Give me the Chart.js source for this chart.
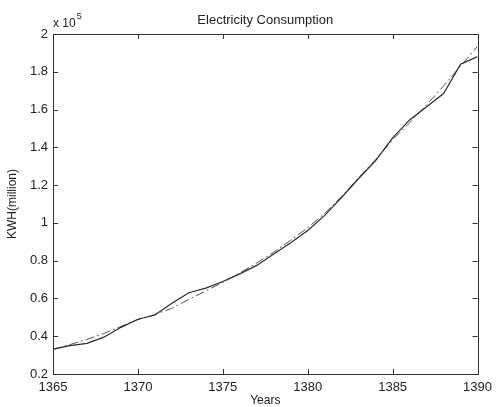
<!DOCTYPE html>
<html>
<head>
<meta charset="utf-8">
<script src="https://cdn.jsdelivr.net/npm/chart.js@4.4.0/dist/chart.umd.min.js"></script>
<style>
  html, body { margin: 0; padding: 0; background: #fff; }
  #wrap { width: 498px; height: 407px; }
</style>
</head>
<body>
<div id="wrap"><canvas id="chart" width="498" height="407"></canvas></div>
<script>
// yearly consumption, KWH(million)
const years = [1365, 1366, 1367, 1368, 1369, 1370, 1371, 1372, 1373, 1374, 1375, 1376, 1377,
               1378, 1379, 1380, 1381, 1382, 1383, 1384, 1385, 1386, 1387, 1388, 1389, 1390];
const actual = [33200, 35000, 36200, 39500, 44700, 49000, 51200, 57500, 63000, 65500, 69000, 73000, 77500,
                83500, 89500, 96000, 104000, 113500, 123500, 133000, 145000, 154500, 161500, 168500, 184000, 188000];
const fitted = [33000, 35600, 38300, 41500, 45200, 48800, 51500, 54800, 59500, 64000, 68500, 73500, 78800,
                84500, 90800, 97500, 105000, 114000, 124000, 133500, 144000, 153000, 162500, 172500, 183000, 193500];
const xTicks = [1365, 1370, 1375, 1380, 1385, 1390];
const yTicks = [20000, 40000, 60000, 80000, 100000, 120000, 140000, 160000, 180000, 200000];

const FONT = "'Liberation Sans', Arial, Helvetica, sans-serif";
const INK = "#222";

function toPoints(xs, ys) {
    return xs.map((x, i) => ({ x: x, y: ys[i] }));
}

// matlab style box: frame on all four sides, ticks pointing inwards, exponent label
const boxPlugin = {
    id: "box",
    afterDraw(chart) {
        const ctx = chart.ctx;
        const a = chart.chartArea;
        const xs = chart.scales.x, ys = chart.scales.y;
        const len = 5;
        ctx.save();
        ctx.strokeStyle = "#333";
        ctx.lineWidth = 1;
        ctx.strokeRect(Math.round(a.left) + 0.5, Math.round(a.top) + 0.5,
                       Math.round(a.right - a.left), Math.round(a.bottom - a.top));
        ctx.beginPath();
        xTicks.forEach(v => {
            const px = Math.round(xs.getPixelForValue(v)) + 0.5;
            ctx.moveTo(px, a.bottom); ctx.lineTo(px, a.bottom - len);
            ctx.moveTo(px, a.top); ctx.lineTo(px, a.top + len);
        });
        yTicks.forEach(v => {
            const py = Math.round(ys.getPixelForValue(v)) + 0.5;
            ctx.moveTo(a.left, py); ctx.lineTo(a.left + len, py);
            ctx.moveTo(a.right, py); ctx.lineTo(a.right - len, py);
        });
        ctx.stroke();

        ctx.fillStyle = INK;
        ctx.textBaseline = "alphabetic";
        ctx.textAlign = "left";
        ctx.font = "12px " + FONT;
        ctx.fillText("x 10", a.left, a.top - 7);
        const w = ctx.measureText("x 10").width;
        ctx.font = "9px " + FONT;
        ctx.fillText("5", a.left + w + 1, a.top - 15);
        ctx.restore();
    }
};

new Chart(document.getElementById("chart"), {
    type: "line",
    data: {
        datasets: [{
            label: "Actual",
            data: toPoints(years, actual),
            borderColor: "#2b2b2b",
            borderWidth: 1.2,
            pointRadius: 0,
            tension: 0,
            fill: false
        }, {
            label: "Fitted",
            data: toPoints(years, fitted),
            borderColor: "#555",
            borderWidth: 1,
            borderDash: [9, 3, 2, 3],
            pointRadius: 0,
            tension: 0,
            fill: false
        }]
    },
    options: {
        responsive: false,
        animation: false,
        layout: { padding: { left: 0, right: 13, top: 0, bottom: 0 } },
        plugins: {
            legend: { display: false },
            tooltip: { enabled: false },
            title: {
                display: true,
                text: "Electricity Consumption",
                fullSize: false,
                color: INK,
                font: { family: FONT, size: 13, weight: "normal", lineHeight: 1.2 },
                padding: { top: 13, bottom: 5.4 }
            }
        },
        scales: {
            x: {
                type: "linear",
                min: 1365,
                max: 1390,
                afterFit: scale => { scale.height = 33; },
                afterBuildTicks: scale => { scale.ticks = xTicks.map(v => ({ value: v })); },
                grid: { display: false, drawTicks: false },
                border: { display: false },
                ticks: {
                    color: INK,
                    padding: 6,
                    maxRotation: 0,
                    font: { family: FONT, size: 13 },
                    callback: v => String(v)
                },
                title: {
                    display: true,
                    text: "Years",
                    color: INK,
                    font: { family: FONT, size: 12, lineHeight: 1 },
                    padding: { top: 0, bottom: 0 }
                }
            },
            y: {
                min: 20000,
                max: 200000,
                afterFit: scale => { scale.width = 53; },
                afterBuildTicks: scale => { scale.ticks = yTicks.map(v => ({ value: v })); },
                grid: { display: false, drawTicks: false },
                border: { display: false },
                ticks: {
                    color: INK,
                    padding: 5,
                    font: { family: FONT, size: 13 },
                    callback: v => String(Math.round(v / 1e4) / 10)
                },
                title: {
                    display: true,
                    text: "KWH(million)",
                    color: INK,
                    font: { family: FONT, size: 12, lineHeight: 1.2 },
                    padding: { top: 5, bottom: 0 }
                }
            }
        }
    },
    plugins: [boxPlugin]
});
</script>
</body>
</html>
